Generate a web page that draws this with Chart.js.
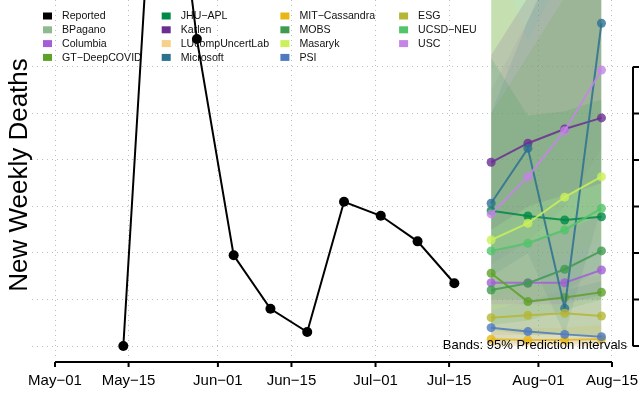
<!doctype html>
<html>
<head>
<meta charset="utf-8">
<title>New Weekly Deaths</title>
<script src="https://cdn.jsdelivr.net/npm/chart.js"></script>
<style>
  html, body { margin: 0; padding: 0; background: #fff; }
  canvas { display: block; }
</style>
</head>
<body>
<canvas id="grafico" width="639" height="396"></canvas>
<script>
// x values are days counted from May-01
const tickDays = [0, 14, 31, 45, 61, 75, 92, 106];
const tickLabels = ['May\u221201', 'May\u221215', 'Jun\u221201', 'Jun\u221215', 'Jul\u221201', 'Jul\u221215', 'Aug\u221201', 'Aug\u221215'];
const yTicks = [0, 20, 40, 60, 80, 100, 120];

const reportedDays = [13, 20, 27, 34, 41, 48, 55, 62, 69, 76];
const reportedDeaths = [0, 260, 132, 39, 16, 6, 62, 56, 45, 27];

const forecastDays = [83, 90, 97, 104];
const modelNames = ['BPagano', 'Columbia', 'GT\u2212DeepCOVID', 'JHU\u2212APL', 'Karlen', 'LUcompUncertLab', 'Microsoft',
  'MIT\u2212Cassandra', 'MOBS', 'Masaryk', 'PSI', 'ESG', 'UCSD\u2212NEU', 'USC'];

// point forecasts (null = no line shown)
const forecastMedian = [
  null,
  [27.2, 27.2, 27.2, 32.7],
  [31.3, 19.1, 20.9, 23.1],
  [58.2, 55.9, 54.2, 55.6],
  [79.0, 87.2, 93.3, 98.1],
  null,
  [61.4, 85.0, 16.2, 138.8],
  [2.9, 2.6, 2.6, 3.0],
  [24.1, 27.0, 33.0, 40.9],
  [45.6, 52.8, 64.0, 72.8],
  [7.9, 6.2, 5.0, 4.0],
  [12.2, 13.2, 14.1, 12.9],
  [40.9, 44.2, 49.9, 59.2],
  [56.8, 72.8, 92.6, 118.7]
];

// 95% prediction intervals
const bandLower = [
  [2.6, 2.6, 2.6, 2.6],
  [18, 18, 18, 22],
  [7, 4.7, 4.7, 4.7],
  [20, 20, 20, 20],
  [50, 60, 65, 70],
  [0, 0, 0, 0],
  [30, 40, 5, 60],
  [0, 0, 0, 0],
  [9, 11, 15.5, 20],
  [20, 28, 37, 46],
  [1, 1, 1, 1],
  [4.7, 4.7, 4.7, 4.7],
  [15.5, 20, 24, 33],
  [35, 45, 60, 85]
];
const bandUpper = [
  [175, 175, 175, 175],
  [40, 45, 50, 56],
  [100, 125, 150, 170],
  [124, 99, 101, 106],
  [125, 150, 160, 170],
  [175, 131, 162, 175],
  [100, 140, 175, 235],
  [7, 8, 8, 9],
  [155, 150, 165, 180],
  [155, 150, 175, 195],
  [15.5, 19.8, 24, 28],
  [24, 26, 28, 30.5],
  [160, 165, 180, 200],
  [110, 140, 170, 200]
];

const modelColors = ['#8dbb8f', '#a35fd5', '#5ea12a', '#008a47', '#6a2e93', '#f7d08a', '#2b7190',
  '#e8b716', '#3f9b4f', '#cbf05a', '#4e79c0', '#b5b635', '#52c46a', '#c485e6'];

function rgba(hex, a) {
  const n = parseInt(hex.slice(1), 16);
  return 'rgba(' + (n >> 16) + ',' + ((n >> 8) & 255) + ',' + (n & 255) + ',' + a + ')';
}
function pts(days, vals) {
  return days.map((d, i) => ({ x: d, y: vals[i] }));
}

const fontFamily = '"Liberation Sans", Arial, sans-serif';
Chart.defaults.font.family = fontFamily;

var datasets = [];

// bands first (drawn underneath)
modelNames.forEach((name, i) => {
  var lowIndex = datasets.length;
  datasets.push({
    data: pts(forecastDays, bandLower[i]),
    borderWidth: 0, pointRadius: 0, fill: false, order: 300 + i
  });
  datasets.push({
    data: pts(forecastDays, bandUpper[i]),
    borderWidth: 0, pointRadius: 0,
    fill: lowIndex,
    backgroundColor: rgba(modelColors[i], 0.15),
    order: 300 + i
  });
});

// forecast lines
modelNames.forEach((name, i) => {
  if (!forecastMedian[i]) return;
  datasets.push({
    label: name,
    data: pts(forecastDays, forecastMedian[i]),
    borderColor: rgba(modelColors[i], 0.85),
    backgroundColor: rgba(modelColors[i], 0.8),
    borderWidth: 2,
    pointRadius: 4.5,
    pointBorderWidth: 0,
    fill: false,
    order: 100 - i
  });
});

datasets.push({
  label: 'Reported',
  data: pts(reportedDays, reportedDeaths),
  borderColor: '#000',
  backgroundColor: '#000',
  borderWidth: 2,
  pointRadius: 5,
  pointBorderWidth: 0,
  fill: false,
  order: 0
});

const rDecor = {
  id: 'rDecor',
  beforeDatasetsDraw(chart) {
    // legend, 4 rows, column major
    const ctx = chart.ctx;
    const names = ['Reported'].concat(modelNames);
    const cols = ['#000000'].concat(modelColors);
    ctx.save();
    ctx.font = '10.6px ' + fontFamily;
    ctx.textBaseline = 'middle';
    ctx.textAlign = 'left';
    names.forEach((n, i) => {
      const col = Math.floor(i / 4), row = i % 4;
      const bx = 43 + col * 118.7, by = 16 + row * 13.8;
      ctx.fillStyle = cols[i];
      ctx.fillRect(bx, by - 3.5, 9, 7);
      ctx.fillStyle = '#111';
      ctx.fillText(n, bx + 19, by + 0.5);
    });
    ctx.restore();
  },
  afterDraw(chart) {
    const ctx = chart.ctx;
    const xs = chart.scales.x, ys = chart.scales.y;
    ctx.save();
    ctx.strokeStyle = '#000';
    ctx.lineWidth = 2;
    // bottom axis
    const ay = 362;
    ctx.beginPath();
    ctx.moveTo(xs.getPixelForValue(tickDays[0]), ay);
    ctx.lineTo(xs.getPixelForValue(tickDays[tickDays.length - 1]), ay);
    tickDays.forEach(d => {
      const px = xs.getPixelForValue(d);
      ctx.moveTo(px, ay);
      ctx.lineTo(px, ay + 5);
    });
    ctx.stroke();
    // right axis
    const ax = 633;
    ctx.beginPath();
    ctx.moveTo(ax, ys.getPixelForValue(yTicks[0]));
    ctx.lineTo(ax, ys.getPixelForValue(yTicks[yTicks.length - 1]));
    yTicks.forEach(v => {
      const py = ys.getPixelForValue(v);
      ctx.moveTo(ax, py);
      ctx.lineTo(ax + 7, py);
    });
    ctx.stroke();
    // y title
    ctx.fillStyle = '#000';
    ctx.font = '26px ' + fontFamily;
    ctx.translate(27, 175);
    ctx.rotate(-Math.PI / 2);
    ctx.textAlign = 'center';
    ctx.textBaseline = 'alphabetic';
    ctx.fillText('New Weekly Deaths', 0, 0);
    ctx.restore();
    // note
    ctx.save();
    ctx.fillStyle = '#000';
    ctx.font = '13px ' + fontFamily;
    ctx.textAlign = 'right';
    ctx.textBaseline = 'alphabetic';
    ctx.fillText('Bands: 95% Prediction Intervals', 627, 348.5);
    ctx.restore();
  }
};

new Chart(document.getElementById('grafico').getContext('2d'), {
  type: 'line',
  data: { datasets: datasets },
  options: {
    responsive: false,
    animation: false,
    events: [],
    layout: { autoPadding: false, padding: { left: 32, right: 6, top: 0, bottom: 0 } },
    plugins: { legend: { display: false }, tooltip: { enabled: false } },
    scales: {
      x: {
        type: 'linear',
        min: -4.38,
        max: 110.0,
        afterBuildTicks: s => { s.ticks = tickDays.map(v => ({ value: v })); },
        afterFit: s => { s.height = 39; s.paddingLeft = 0; s.paddingRight = 0; },
        ticks: {
          autoSkip: false,
          maxRotation: 0,
          padding: 15,
          color: '#000',
          font: { size: 15 },
          callback: v => tickLabels[tickDays.indexOf(v)]
        },
        grid: { color: '#bdbdbd', lineWidth: 1, drawTicks: false },
        border: { display: false, dash: [1, 4] }
      },
      y: {
        type: 'linear',
        position: 'right',
        min: -4.73,
        max: 148.8,
        afterBuildTicks: s => { s.ticks = yTicks.map(v => ({ value: v })); },
        afterFit: s => { s.width = 0; s.paddingTop = 0; s.paddingBottom = 0; },
        ticks: { display: false },
        grid: { color: '#bdbdbd', lineWidth: 1, drawTicks: false },
        border: { display: false, dash: [1, 4] }
      }
    }
  },
  plugins: [rDecor]
});
</script>
</body>
</html>
